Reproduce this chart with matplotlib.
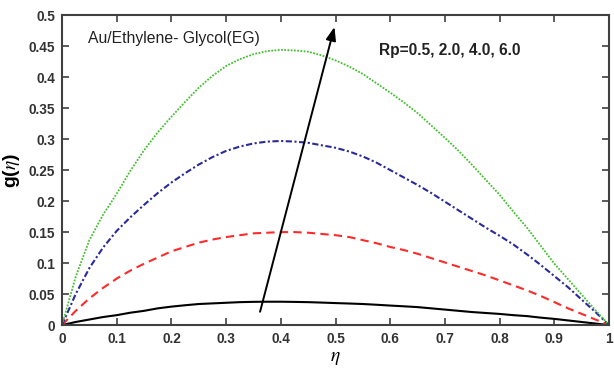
import matplotlib
matplotlib.use("Agg")
import matplotlib.pyplot as plt

plt.rcParams['font.family'] = ['Liberation Sans', 'DejaVu Sans']
plt.rcParams['mathtext.fontset'] = 'stix'

eta = [0.0, 0.025, 0.05, 0.075, 0.1, 0.125, 0.15, 0.175, 0.2, 0.225,
       0.25, 0.275, 0.3, 0.325, 0.35, 0.375, 0.4, 0.425, 0.45, 0.475,
       0.5, 0.525, 0.55, 0.575, 0.6, 0.625, 0.65, 0.675, 0.7, 0.725,
       0.75, 0.775, 0.8, 0.825, 0.85, 0.875, 0.9, 0.925, 0.95, 0.975, 1.0]
g_rp05 = [0.0, 0.005, 0.009, 0.013, 0.016, 0.020, 0.023, 0.027, 0.0298, 0.032,
          0.034, 0.035, 0.036, 0.037, 0.0375, 0.0377, 0.0377, 0.0374, 0.037, 0.0363,
          0.0355, 0.0348, 0.034, 0.0328, 0.0315, 0.0303, 0.029, 0.027, 0.025, 0.023,
          0.021, 0.0195, 0.018, 0.016, 0.0145, 0.012, 0.010, 0.0075, 0.005, 0.0025, 0.0]
g_rp20 = [0.0, 0.023, 0.043, 0.060, 0.075, 0.088, 0.099, 0.109, 0.119, 0.126,
          0.133, 0.138, 0.142, 0.145, 0.148, 0.149, 0.150, 0.150, 0.149, 0.147,
          0.145, 0.142, 0.137, 0.132, 0.126, 0.121, 0.115, 0.108, 0.101, 0.094,
          0.087, 0.080, 0.072, 0.064, 0.056, 0.047, 0.037, 0.027, 0.018, 0.009, 0.0]
g_rp40 = [0.0, 0.050, 0.092, 0.125, 0.152, 0.174, 0.194, 0.213, 0.230, 0.245,
          0.259, 0.271, 0.281, 0.288, 0.293, 0.296, 0.297, 0.296, 0.294, 0.290,
          0.286, 0.280, 0.272, 0.262, 0.250, 0.238, 0.226, 0.213, 0.199, 0.185,
          0.171, 0.157, 0.144, 0.130, 0.114, 0.097, 0.079, 0.061, 0.041, 0.021, 0.0]
g_rp60 = [0.0, 0.078, 0.137, 0.178, 0.212, 0.249, 0.282, 0.311, 0.336, 0.360,
          0.383, 0.402, 0.418, 0.429, 0.437, 0.442, 0.444, 0.443, 0.441, 0.435,
          0.427, 0.417, 0.405, 0.390, 0.375, 0.359, 0.342, 0.322, 0.302, 0.281,
          0.258, 0.234, 0.210, 0.183, 0.157, 0.128, 0.099, 0.074, 0.049, 0.024, 0.0]

xticks = [0, 0.1, 0.2, 0.3, 0.4, 0.5, 0.6, 0.7, 0.8, 0.9, 1]
xticklabels = ['0', '0.1', '0.2', '0.3', '0.4', '0.5', '0.6', '0.7', '0.8', '0.9', '1']
yticks = [0, 0.05, 0.1, 0.15, 0.2, 0.25, 0.3, 0.35, 0.4, 0.45, 0.5]
yticklabels = ['0', '0.05', '0.1', '0.15', '0.2', '0.25', '0.3', '0.35', '0.4', '0.45', '0.5']

fig = plt.figure(figsize=(6.14, 3.69), dpi=100)
ax = fig.add_axes([0.101, 0.119, 0.891, 0.840])

ax.plot(eta, g_rp05, color='black', lw=1.5, ls='-')
ax.plot(eta, g_rp20, color='#ff2a2a', lw=1.5, ls=(0, (4, 2.5)))
ax.plot(eta, g_rp40, color='#2a2a9a', lw=1.5, ls=(0, (3, 1.2, 1, 1.2)))
ax.plot(eta, g_rp60, color='#44c030', lw=1.3, ls=(0, (1, 0.8)))

ax.set_xlim(0, 1)
ax.set_ylim(0, 0.5)
ax.set_xticks(xticks)
ax.set_xticklabels(xticklabels)
ax.set_yticks(yticks)
ax.set_yticklabels(yticklabels)

for lab in ax.get_xticklabels() + ax.get_yticklabels():
    lab.set_fontweight('bold')
    lab.set_fontsize(9.8)
    lab.set_color('#333333')

ax.tick_params(direction='in', length=5, width=1.2, color='#404040',
               top=True, right=True, pad=5)
for sp in ax.spines.values():
    sp.set_color('#404040')
    sp.set_linewidth(1.5)

ax.set_xlabel(r'$\eta$', fontsize=14, labelpad=3)
ax.set_ylabel(r'g($\eta$)', fontsize=14, fontweight='bold', labelpad=5)

ax.annotate('', xy=(0.498, 0.481), xytext=(0.362, 0.0215),
            arrowprops=dict(arrowstyle='-|>,head_length=0.8,head_width=0.3',
                            color='black', lw=1.4, shrinkA=0, shrinkB=0))

ax.text(0.047, 0.463, 'Au/Ethylene- Glycol(EG)', fontsize=11.3,
        ha='left', va='center', color='#222222')
ax.text(0.58, 0.4435, 'Rp=0.5, 2.0, 4.0, 6.0', fontsize=11.2,
        fontweight='bold', ha='left', va='center', color='#222222')

fig.savefig('out.png', dpi=100)
